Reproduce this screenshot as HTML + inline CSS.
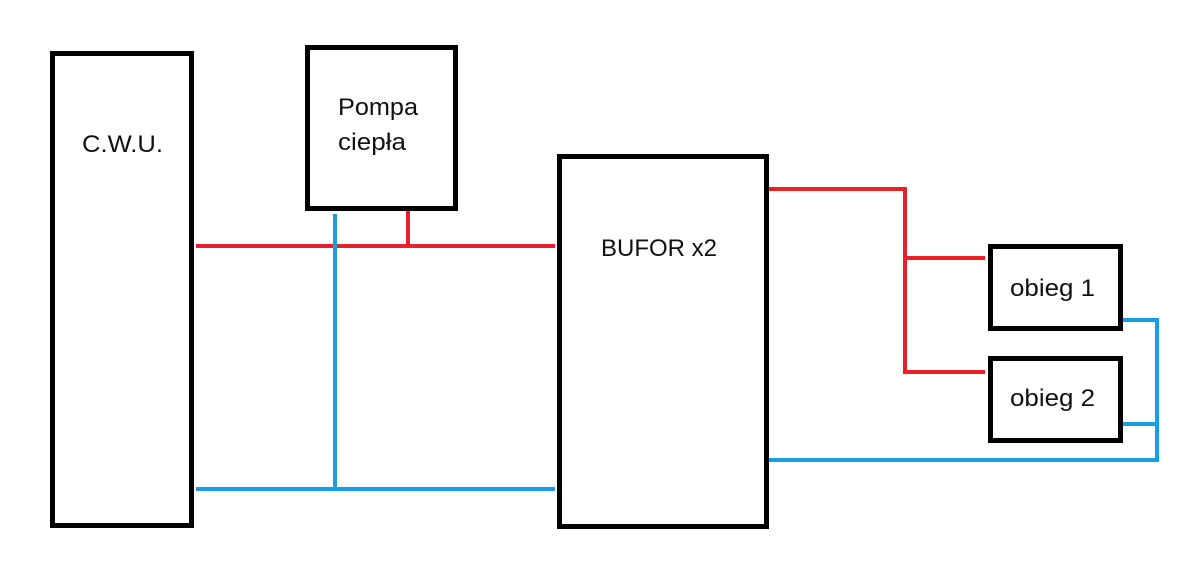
<!DOCTYPE html>
<html><head><meta charset="utf-8"><style>
html,body{margin:0;padding:0;background:#fff;}
svg{display:block;}
text{font-family:"Liberation Sans",sans-serif;font-size:24px;fill:#111;}
</style></head><body>
<svg width="1200" height="571" viewBox="0 0 1200 571" xmlns="http://www.w3.org/2000/svg">
<g fill="none" stroke="#000" stroke-width="5">
<rect x="52.5" y="53.5" width="139" height="472"/>
<rect x="307.5" y="47.5" width="148" height="161"/>
<rect x="559.5" y="156.5" width="207" height="370"/>
<rect x="990.5" y="246.5" width="130" height="82"/>
<rect x="990.5" y="358.5" width="130" height="82"/>
</g>
<g stroke="#e8202a" stroke-width="4" fill="none">
<line x1="196" y1="246" x2="555" y2="246"/>
<line x1="408" y1="211" x2="408" y2="248"/>
<polyline points="769,189 905,189 905,372 985,372"/>
<line x1="905" y1="258" x2="985" y2="258"/>
</g>
<g stroke="#1a9ee0" stroke-width="4" fill="none">
<line x1="335" y1="214" x2="335" y2="489"/>
<line x1="196" y1="489" x2="555" y2="489"/>
<polyline points="1123,320 1157,320 1157,460 769,460"/>
<line x1="1123" y1="424" x2="1157" y2="424"/>
</g>
<text x="82" y="152" textLength="81" lengthAdjust="spacingAndGlyphs">C.W.U.</text>
<text x="338" y="115" textLength="80" lengthAdjust="spacingAndGlyphs">Pompa</text>
<text x="338" y="150" textLength="68" lengthAdjust="spacingAndGlyphs">ciepła</text>
<text x="601" y="256" textLength="116" lengthAdjust="spacingAndGlyphs">BUFOR x2</text>
<text x="1010" y="296" textLength="85" lengthAdjust="spacingAndGlyphs">obieg 1</text>
<text x="1010" y="406" textLength="85" lengthAdjust="spacingAndGlyphs">obieg 2</text>
</svg>
</body></html>
